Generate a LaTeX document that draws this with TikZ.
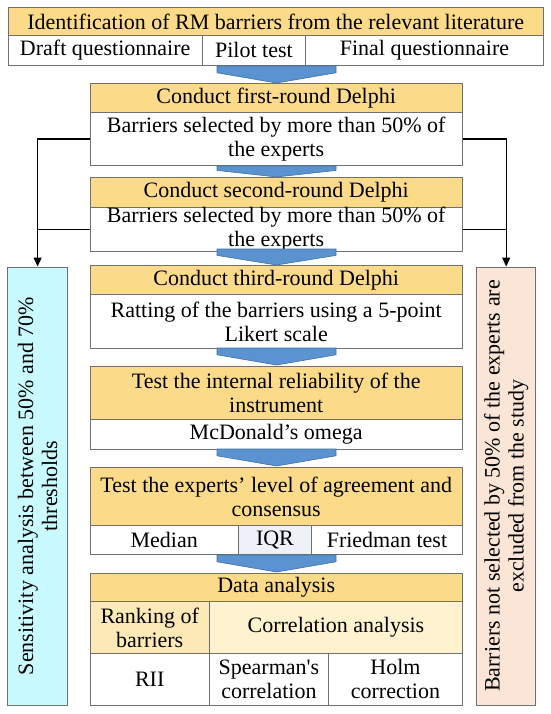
\documentclass[tikz,border=0pt]{standalone}
\usepackage{fontspec}
\setmainfont{Liberation Serif}
\usetikzlibrary{arrows.meta}
\definecolor{hdr}{HTML}{FBDB8A}
\definecolor{bordc}{HTML}{707070}
\definecolor{rankc}{HTML}{FDE9B5}
\definecolor{corrc}{HTML}{FFF2CF}
\definecolor{iqrc}{HTML}{EEF2F8}
\definecolor{cyanc}{HTML}{C9FAFF}
\definecolor{peachc}{HTML}{FBE5D6}
\definecolor{arrfill}{HTML}{5A93D0}
\definecolor{arrdraw}{HTML}{41719C}
\newcommand\bluearrow[2]{%
  \fill[arrfill,draw=arrdraw,line width=0.6pt] (217,#1)--(336,#1)--(336,#1+0.4*#2-0.4*#1)--(276.5,#2)--(217,#1+0.4*#2-0.4*#1)--cycle;}
\begin{document}
\begin{tikzpicture}[x=1pt,y=-1pt,
  cell/.style={draw=bordc,line width=0.9pt,anchor=north west,inner sep=0pt,align=center,
    font=\fontsize{22}{24}\selectfont},
  conn/.style={draw=black,line width=1.2pt},
  tipc/.style={-{Triangle[width=8pt,length=9pt]}}]
\useasboundingbox (0,0) rectangle (550,714);
% top
\node[cell,fill=hdr,minimum width=535.5pt,minimum height=28pt] (top) at (7.5,7) {Identification of RM barriers from the relevant literature};
\node[cell,fill=white,minimum width=194.5pt,minimum height=30pt] (d1) at (7.5,35) {Draft questionnaire};
\node[cell,fill=white,minimum width=103pt,minimum height=30pt] (d2) at (202,35) {Pilot test};
\node[cell,fill=white,minimum width=238pt,minimum height=30pt] (d3) at (305,35) {Final questionnaire};
% round 1
\node[cell,fill=hdr,minimum width=372.5pt,minimum height=29pt] (b1h) at (89.5,83) {Conduct first-round Delphi};
\node[cell,fill=white,minimum width=372.5pt,minimum height=53pt] (b1w) at (89.5,112) {Barriers selected by more than 50\% of\\the experts};
% round 2
\node[cell,fill=hdr,minimum width=372.5pt,minimum height=30pt] (b2h) at (89.5,177) {Conduct second-round Delphi};
\node[cell,fill=white,minimum width=372.5pt,minimum height=42pt] (b2w) at (89.5,207) {Barriers selected by more than 50\% of\\the experts};
% round 3
\node[cell,fill=hdr,minimum width=372.5pt,minimum height=29pt] (b3h) at (89.5,265) {Conduct third-round Delphi};
\node[cell,fill=white,minimum width=372.5pt,minimum height=54pt] (b3w) at (89.5,294) {Ratting of the barriers using a 5-point\\Likert scale};
% reliability
\node[cell,fill=hdr,minimum width=372.5pt,minimum height=53pt] (b4h) at (89.5,366) {Test the internal reliability of the\\instrument};
\node[cell,fill=white,minimum width=372.5pt,minimum height=30pt] (b4w) at (89.5,419) {McDonald’s omega};
% agreement
\node[cell,fill=hdr,minimum width=372.5pt,minimum height=58pt] (b5h) at (89.5,467) {Test the experts’ level of agreement and\\consensus};
\node[cell,fill=white,minimum width=148.5pt,minimum height=29pt] (med) at (89.5,525) {Median};
\node[cell,fill=iqrc,minimum width=73pt,minimum height=29pt] (iqr) at (238,525) {IQR};
\node[cell,fill=white,minimum width=151pt,minimum height=29pt] (fri) at (311,525) {Friedman test};
% data analysis
\node[cell,fill=hdr,minimum width=372.5pt,minimum height=28pt] (b6h) at (89.5,573) {Data analysis};
\node[cell,fill=rankc,minimum width=119.5pt,minimum height=52pt] (rank) at (89.5,601) {Ranking of\\barriers};
\node[cell,fill=corrc,minimum width=253pt,minimum height=52pt] (corr) at (209,601) {Correlation analysis};
\node[cell,fill=white,minimum width=119.5pt,minimum height=52pt] (rii) at (89.5,653) {RII};
\node[cell,fill=white,minimum width=119pt,minimum height=52pt] (spear) at (209,653) {Spearman\textquotesingle s\\correlation};
\node[cell,fill=white,minimum width=134pt,minimum height=52pt] (holm) at (328,653) {Holm\\correction};
% side boxes
\node[cell,anchor=center,fill=cyanc,rotate=90,minimum width=438pt,minimum height=60.2pt] (left) at (37.6,486) {Sensitivity analysis between 50\% and 70\%\\thresholds};
\node[cell,anchor=center,fill=peachc,rotate=90,minimum width=438pt,minimum height=59pt] (right) at (506.2,486) {Barriers not selected by 50\% of the experts are\\excluded from the study};
% blue arrows
\bluearrow{66}{83}
\bluearrow{166}{177}
\bluearrow{249}{265}
\bluearrow{348}{365}
\bluearrow{449}{466}
\bluearrow{555}{572}
% connectors
\draw[conn,tipc] (b1w.west) -| (left.east);
\draw[conn] (b2w.west) -- (b2w.west -| left.east);
\draw[conn,tipc] (b1w.east) -| (right.east);
\draw[conn] (b2w.east) -- (b2w.east -| right.east);
\end{tikzpicture}
\end{document}
